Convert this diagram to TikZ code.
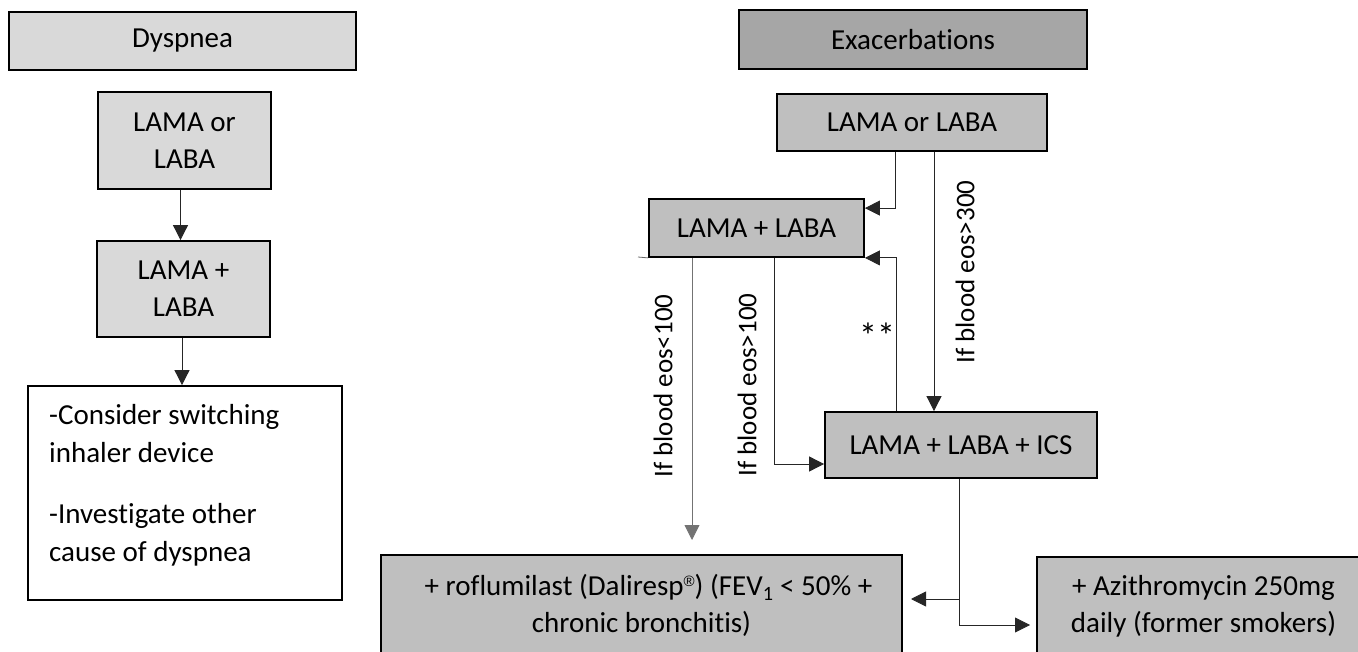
\documentclass[tikz,border=0pt]{standalone}
\usepackage{fontspec}
\setmainfont{Carlito}[Ligatures=NoCommon]
\newfontfamily\regfont{Liberation Sans}
\usetikzlibrary{arrows.meta}
\definecolor{lightfill}{HTML}{D9D9D9}
\definecolor{darkfill}{HTML}{A6A6A6}
\definecolor{midfill}{HTML}{BFBFBF}
\newcommand{\regmark}{\raisebox{9pt}{\regfont\fontsize{15}{15}\selectfont ®}}
\begin{document}
\begin{tikzpicture}[x=1pt,y=-1pt,
  boxbase/.style={draw=black, line width=1.8pt, inner sep=0pt, align=center,
    font=\fontsize{29}{37}\selectfont},
  lbox/.style={boxbase, fill=lightfill},
  hbox/.style={boxbase, fill=darkfill},
  rbox/.style={boxbase, fill=midfill},
  wbox/.style={boxbase, fill=white},
  conn/.style={draw=black!85, line width=0.8pt, -{Triangle[length=15pt,width=15pt]}},
  plainline/.style={draw=black!85, line width=0.8pt},
  lbl/.style={font=\fontsize{27}{32}\selectfont, inner sep=0pt},
  ]
\useasboundingbox (0,0) rectangle (1358,652);
\clip (0,0) rectangle (1358,652);

% ---- left column ----
\node[lbox, minimum width=347pt, minimum height=58pt] (dys) at (182.5,41) {Dyspnea};
\node[lbox, minimum width=173pt, minimum height=97pt] (lor) at (184.5,140.5) {LAMA or\\LABA};
\node[lbox, minimum width=173pt, minimum height=96pt] (lpl) at (183.5,289) {LAMA +\\LABA};
\node[wbox, minimum width=314pt, minimum height=214pt] (wb) at (185,493) {};
\node[anchor=west, align=left, inner sep=0pt, font=\fontsize{29}{38}\selectfont] (wtxt) at (49,485)
  {-Consider switching\\inhaler device\\[23pt]-Investigate other\\cause of dyspnea};

\draw[conn] ([xshift=-4pt]lor.south) -- ([xshift=-3pt]lpl.north);
\draw[conn] ([xshift=-1.5pt]lpl.south) -- ([xshift=-3pt]wb.north);

% ---- right column ----
\node[hbox, minimum width=348pt, minimum height=59pt] (exa) at (913,39.5) {Exacerbations};
\node[rbox, minimum width=270pt, minimum height=57pt] (ror) at (912,122.5) {LAMA or LABA};
\node[rbox, minimum width=215pt, minimum height=58pt] (rpl) at (756.5,228) {LAMA + LABA};
\node[rbox, minimum width=272pt, minimum height=66pt] (ics) at (961,445) {LAMA + LABA + ICS};
\node[rbox, minimum width=521pt, minimum height=101pt] (rof) at (641.5,605.5)
  {\hspace*{14pt}+ roflumilast (Daliresp\regmark) (FEV\textsubscript{1} < 50\% +\\chronic bronchitis)};
\node[rbox, minimum width=333pt, minimum height=99pt] (azi) at (1203.5,606.5)
  {+ Azithromycin 250mg\\daily (former smokers)};

% free ends
\coordinate (stub) at (638,257);
\coordinate (lowend) at (692,540);
\coordinate (split1) at (959,599);
\coordinate (split2) at (959,625);
\coordinate (rofin) at (911,599);
\coordinate (aziin) at (1030,625);

% connectors
\draw[conn] ([xshift=-17pt]ror.south) |- ([yshift=-10pt]rpl.north east);
\draw[conn] ([xshift=22pt]ror.south) -- ([xshift=-27pt]ics.north);
\draw[conn] ([xshift=-65pt]ics.north) |- (rpl.south east);
\draw[conn] ([xshift=17.5pt]rpl.south) |- ([yshift=-19pt]ics.west);
\draw[conn, draw=black!55] ([xshift=-64.5pt]rpl.south) -- (lowend);
\draw[plainline, draw=black!60] (rpl.south west) -- (stub);
\draw[plainline] (ics.south -| split2) -- (split2);
\draw[conn] (split2) -- (aziin);
\draw[conn] (split1) -- (rofin);

% labels
\node[lbl, rotate=90] (l300) at (965,272) {If blood eos>300};
\node[lbl, rotate=90] (l100a) at (747,385) {If blood eos>100};
\node[lbl, rotate=90] (l100b) at (663,386) {If blood eos<100};
\node[lbl, font=\fontsize{36}{36}\selectfont] (stars) at (877,336) {**};
\end{tikzpicture}
\end{document}
